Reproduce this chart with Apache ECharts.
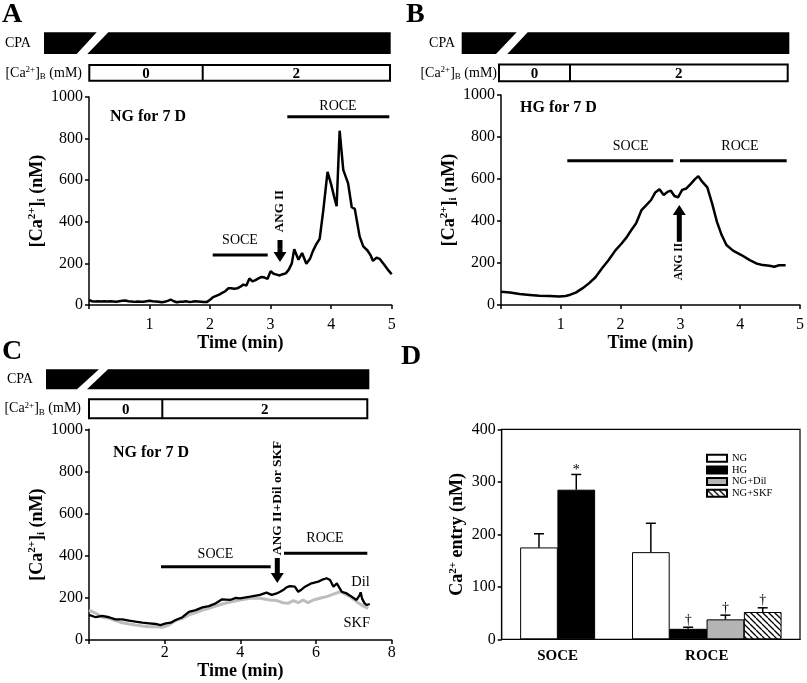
<!DOCTYPE html>
<html><head><meta charset="utf-8">
<script src="https://cdn.jsdelivr.net/npm/echarts@6.0.0/dist/echarts.min.js"></script>
<style>html,body{margin:0;padding:0;background:#fff}#c{width:807px;height:683px}</style>
</head><body><div id="c"></div>
<script>
// ---------- DATA ----------
// Panel A: NG for 7 D
const aTime = [0,0.05,0.1,0.15,0.2,0.25,0.3,0.35,0.4,0.45,0.5,0.55,0.6,0.65,0.7,0.75,0.8,0.85,0.9,0.95,1.0,1.05,1.1,1.15,1.2,1.25,1.3,1.35,1.4,1.45,1.5,1.55,1.6,1.65,1.7,1.75,1.8,1.85,1.9,1.95,2.0,2.05,2.1,2.15,2.2,2.25,2.3,2.35,2.4,2.45,2.5,2.55,2.6,2.65,2.7,2.75,2.8,2.85,2.9,2.95,3.0,3.05,3.1,3.15,3.2,3.25,3.3,3.35,3.39,3.46,3.52,3.59,3.65,3.7,3.75,3.81,3.87,3.94,4.0,4.05,4.09,4.14,4.2,4.28,4.34,4.39,4.42,4.47,4.53,4.6,4.65,4.69,4.75,4.8,4.88,4.95,5.0];
const aCa   = [24,18,17,18,17,18,17,18,17,16,18,20,22,18,17,15,17,16,16,18,20,18,17,16,13,16,20,26,18,13,16,16,18,15,16,18,17,16,14,15,25,38,44,50,58,66,80,80,78,80,88,98,94,128,114,120,128,135,132,126,163,150,146,142,148,152,170,200,268,218,250,198,222,260,290,318,455,640,580,520,475,838,650,585,470,462,462,330,282,262,240,212,228,222,192,165,148];
// Panel B: HG for 7 D
const bTime = [0,0.15,0.31,0.48,0.64,0.81,0.97,1.08,1.16,1.25,1.36,1.47,1.58,1.69,1.8,1.91,2.02,2.1,2.18,2.26,2.35,2.43,2.51,2.58,2.65,2.72,2.79,2.84,2.9,2.96,3.03,3.1,3.17,3.24,3.3,3.35,3.45,3.53,3.61,3.69,3.77,3.88,4.02,4.16,4.27,4.38,4.49,4.57,4.65,4.76];
const bCa   = [63,60,52,48,44,43,40,43,49,59,79,103,132,175,214,259,294,322,357,389,452,476,500,536,551,524,540,544,519,513,548,555,576,598,614,592,560,484,397,333,286,259,238,214,198,190,187,182,189,189];
// Panel C: NG for 7 D, ANG II + Dil (black) or SKF (gray)
const cDilTime = [0,0.18,0.35,0.53,0.7,0.88,1.06,1.23,1.41,1.59,1.76,1.89,2.03,2.16,2.29,2.47,2.64,2.82,3.0,3.17,3.35,3.52,3.73,3.88,3.99,4.26,4.52,4.69,4.83,4.96,5.05,5.13,5.22,5.31,5.44,5.53,5.62,5.71,5.88,6.06,6.15,6.28,6.37,6.46,6.55,6.68,6.81,6.94,7.07,7.15,7.18,7.22,7.28,7.34,7.42];
const cDilCa   = [119,108,114,108,98,98,92,87,82,79,76,71,79,82,95,108,134,142,155,161,174,193,190,200,198,206,214,225,214,221,229,237,250,256,253,229,240,253,269,277,285,293,285,253,269,229,221,206,190,212,226,195,175,166,171];
const cSkfTime = [0,0.18,0.35,0.53,0.7,0.88,1.06,1.23,1.41,1.59,1.76,1.94,2.11,2.29,2.47,2.64,2.82,3.0,3.17,3.35,3.52,3.73,3.99,4.26,4.52,4.78,4.96,5.13,5.26,5.4,5.53,5.66,5.79,5.93,6.1,6.28,6.46,6.64,6.77,6.9,7.07,7.25,7.38];
const cSkfCa   = [142,127,108,103,92,82,76,71,66,63,63,60,71,92,103,119,130,142,150,161,171,180,190,198,198,190,187,177,174,187,177,190,177,190,198,206,218,229,218,206,182,161,150];
// Panel D: Ca2+ entry (nM)
const dGroups = ['SOCE','ROCE'];
const dSeriesNames = ['NG','HG','NG+Dil','NG+SKF'];
const dMean = { 'NG':[175,166], 'HG':[285,20], 'NG+Dil':[null,38], 'NG+SKF':[null,52] };
const dErr  = { 'NG':[26,55],   'HG':[29,3],   'NG+Dil':[null,8],  'NG+SKF':[null,8] };
const dSig  = { 'NG':['',''],   'HG':['*','†'],'NG+Dil':['','†'], 'NG+SKF':['','†'] };
const yTicksTrace = [0,200,400,600,800,1000];
const yTicksD = [0,100,200,300,400];

// ---------- HELPERS ----------
const FF = '"Liberation Serif","Times New Roman",serif';
function richCa(size, weight){
  const s = Math.round(size*0.62);
  return {
    n:{fontSize:size,fontWeight:weight,fontFamily:FF,color:'#000',lineHeight:size+2},
    sup:{fontSize:s,fontWeight:weight,fontFamily:FF,color:'#000',verticalAlign:'top',lineHeight:s},
    sub:{fontSize:s,fontWeight:weight,fontFamily:FF,color:'#000',verticalAlign:'bottom',lineHeight:s}
  };
}
const pairs = (t,v)=>t.map((x,i)=>[x,v[i]]);
const axLine = {show:true,lineStyle:{color:'#000',width:1.5}};
const axTick = {show:true,length:4,lineStyle:{color:'#000',width:1.5}};
function xAx(grid,max,interval,margin,nameGap){
  return {type:'value',gridIndex:grid,min:0,max,interval,axisLine:axLine,axisTick:axTick,
    splitLine:{show:false},
    axisLabel:{color:'#000',fontSize:16,fontFamily:FF,margin,formatter:v=>v===0?'':String(v)},
    name:'Time (min)',nameLocation:'middle',nameGap,
    nameTextStyle:{color:'#000',fontSize:18,fontWeight:'bold',fontFamily:FF}};
}
function yAx(grid,nameGap){
  return {type:'value',gridIndex:grid,min:yTicksTrace[0],max:yTicksTrace[yTicksTrace.length-1],
    interval:yTicksTrace[1]-yTicksTrace[0],axisLine:axLine,axisTick:axTick,splitLine:{show:false},
    axisLabel:{color:'#000',fontSize:16,fontFamily:FF,margin:6,formatter:v=>String(v)},
    name:'{n|[Ca}{sup|2+}{n|]}{sub|i}{n| (nM)}',nameLocation:'middle',nameGap,
    nameTextStyle:{rich:richCa(18,'bold')}};
}
function txt(x,y,text,size,weight,align,rot){
  return {type:'text',x,y,rotation:rot||0,silent:true,
    style:{text,fill:'#000',font:(weight||'normal')+' '+size+'px '+FF,
      align:align||'center',verticalAlign:'middle',textAlign:align||'center',textVerticalAlign:'middle'}};
}
function hline(x1,x2,y,w){
  return {type:'line',silent:true,shape:{x1,y1:y,x2,y2:y},style:{stroke:'#000',lineWidth:w||3}};
}
function arrow(x,yTail,yTip){
  const d = yTip>yTail?1:-1, hb = yTip-d*10;
  return {type:'polygon',silent:true,shape:{points:[[x-2.5,yTail],[x+2.5,yTail],[x+2.5,hb],[x+6.5,hb],[x,yTip],[x-6.5,hb],[x-2.5,hb]]},style:{fill:'#000'}};
}
function header(o){
  const els=[];
  els.push(txt(o.cpaX,(o.y0+o.y1)/2,'CPA',14,'normal',o.cpaAlign));
  els.push({type:'polygon',silent:true,shape:{points:[[o.x0,o.y0],[o.g1t,o.y0],[o.g1b,o.y1],[o.x0,o.y1]]},style:{fill:'#000'}});
  els.push({type:'polygon',silent:true,shape:{points:[[o.g2t,o.y0],[o.x1,o.y0],[o.x1,o.y1],[o.g2b,o.y1]]},style:{fill:'#000'}});
  const cy=(o.by0+o.by1)/2;
  els.push({type:'text',x:o.lblR,y:cy,silent:true,style:{text:'{n|[Ca}{sup|2+}{n|]}{sub|B}{n| (mM)}',rich:richCa(14,'normal'),
     align:'right',verticalAlign:'middle',textAlign:'right',textVerticalAlign:'middle'}});
  els.push({type:'rect',silent:true,shape:{x:o.bx0,y:o.by0,width:o.bx1-o.bx0,height:o.by1-o.by0},style:{fill:'#fff',stroke:'#000',lineWidth:2}});
  els.push({type:'line',silent:true,shape:{x1:o.div,y1:o.by0,x2:o.div,y2:o.by1},style:{stroke:'#000',lineWidth:2}});
  els.push(txt((o.bx0+o.div)/2,cy+1,'0',15,'bold'));
  els.push(txt((o.div+o.bx1)/2,cy+1,'2',15,'bold'));
  return els;
}

// hatched pattern for NG+SKF
const pc = document.createElement('canvas'); pc.width=6; pc.height=6;
(function(){const g=pc.getContext('2d');g.fillStyle='#fff';g.fillRect(0,0,6,6);g.strokeStyle='#000';g.lineWidth=1.3;
  for(const k of [-6,0,6]){g.beginPath();g.moveTo(k,0);g.lineTo(k+6,6);g.stroke();}})();
const dColors = {'NG':'#ffffff','HG':'#000000','NG+Dil':'#b4b4b4','NG+SKF':{image:pc,repeat:'repeat'}};

// ---------- build D slot layout ----------
const slotCount = 17;
const slots = Array.from({length:slotCount},(_,i)=>'s'+i);
const slotLabel = {};
const groupStart = [];
let s0 = 2;
dGroups.forEach((g,gi)=>{
  const n = dSeriesNames.filter(nm=>dMean[nm][gi]!=null).length;
  groupStart.push(s0); slotLabel[s0+n-1]=g; s0 += 2*n+2;
});
const dBarSeries = [], errData = [], errMarks = [];
dSeriesNames.forEach(nm=>{
  const arr = new Array(slotCount).fill(null);
  dGroups.forEach((g,gi)=>{
    const present = dSeriesNames.filter(x=>dMean[x][gi]!=null);
    const k = present.indexOf(nm);
    if(k<0) return;
    const slot = groupStart[gi]+2*k;
    arr[slot]=dMean[nm][gi];
    errData.push([slot,dMean[nm][gi],dErr[nm][gi]]); errMarks.push(dSig[nm][gi]);
  });
  dBarSeries.push({type:'bar',name:nm,xAxisIndex:3,yAxisIndex:3,data:arr,barWidth:37.7,barGap:'-100%',
    itemStyle:{color:dColors[nm],borderColor:'#000',borderWidth:1}});
});

// ---------- graphics ----------
const graphics = [
  txt(2,15,'A',28,'bold','left'), txt(406,15,'B',28,'bold','left'),
  txt(2,352,'C',28,'bold','left'), txt(401,357,'D',28,'bold','left'),
  ...header({cpaX:5,cpaAlign:'left',x0:44,x1:390.7,y0:32.3,y1:54,g1t:96.7,g1b:76.7,g2t:108.3,g2b:87.3,
    lblR:82,bx0:89.3,bx1:390,by0:65,by1:80.7,div:202.7}),
  ...header({cpaX:455,cpaAlign:'right',x0:461.7,x1:789.3,y0:32.3,y1:54,g1t:516.7,g1b:496,g2t:527.7,g2b:507.3,
    lblR:497,bx0:499,bx1:787.7,by0:64.5,by1:81.2,div:570}),
  ...header({cpaX:7,cpaAlign:'left',x0:46,x1:369.3,y0:369.3,y1:389.3,g1t:99,g1b:77,g2t:108,g2b:87,
    lblR:81,bx0:89,bx1:367.3,by0:399.3,by1:418.3,div:162.3}),
  // A annotations
  txt(110,116.7,'NG for 7 D',16,'bold','left'),
  txt(338,106.7,'ROCE',14), hline(287.3,389.3,116.7),
  txt(240,240.7,'SOCE',14), hline(212.7,267.7,255),
  txt(280,211,'ANG II',13,'bold','center',Math.PI/2), arrow(280,240,262),
  // B annotations
  txt(520,108.3,'HG for 7 D',16,'bold','left'),
  txt(630.7,146.7,'SOCE',14), hline(567.3,673.3,160.7),
  txt(740,146.7,'ROCE',14), hline(680,786.7,160.7),
  arrow(679.3,241.7,205), txt(679.3,261.5,'ANG II',11.5,'bold','center',Math.PI/2),
  // C annotations
  txt(113,453,'NG for 7 D',16,'bold','left'),
  txt(215.5,554,'SOCE',14), hline(161,270.7,566.7),
  txt(325,538,'ROCE',14), hline(284,367.3,553.3),
  txt(277.3,498,'ANG II+Dil or SKF',13.5,'bold','center',Math.PI/2), arrow(277.3,558,583),
  txt(360.5,582,'Dil',14.5), txt(356.7,623,'SKF',14.5)
];

// ---------- OPTION ----------
const option = {
  animation:false,
  backgroundColor:'#fff',
  grid:[
    {left:89,top:97,width:302.7,height:208},
    {left:501,top:95,width:303,height:210},
    {left:89,top:429.3,width:302.7,height:210.7},
    {left:501.7,top:429.3,width:298.3,height:210,show:true,borderColor:'#000',borderWidth:1.2}
  ],
  xAxis:[
    xAx(0,5,1,12,28), xAx(1,5,1,12,28), xAx(2,8,2,5,21),
    {type:'category',gridIndex:3,data:slots,boundaryGap:false,
      axisLine:{show:true,lineStyle:{color:'#000',width:1.2}},axisTick:{show:false},
      axisLabel:{interval:0,margin:9,color:'#000',fontSize:15,fontWeight:'bold',fontFamily:FF,formatter:(v,i)=>slotLabel[i]||''}}
  ],
  yAxis:[
    yAx(0,18), yAx(1,29), yAx(2,41),
    {type:'value',gridIndex:3,min:yTicksD[0],max:yTicksD[yTicksD.length-1],interval:yTicksD[1]-yTicksD[0],
      axisLine:{show:true,lineStyle:{color:'#000',width:1.2}},axisTick:axTick,splitLine:{show:false},
      axisLabel:{color:'#000',fontSize:16,fontFamily:FF,margin:6},
      name:'{n|Ca}{sup|2+}{n| entry (nM)}',nameLocation:'middle',nameGap:34,nameTextStyle:{rich:richCa(18,'bold')}}
  ],
  legend:{data:dSeriesNames,orient:'vertical',left:701,top:447.7,itemWidth:20,itemHeight:7,itemGap:0.7,
    icon:'rect',selectedMode:false,textStyle:{color:'#000',fontSize:10.5,fontFamily:FF,lineHeight:10,padding:[0,0,0,0]}},
  series:[
    {type:'line',xAxisIndex:0,yAxisIndex:0,data:pairs(aTime,aCa),symbol:'none',lineStyle:{color:'#000',width:2.5},silent:true},
    {type:'line',xAxisIndex:1,yAxisIndex:1,data:pairs(bTime,bCa),symbol:'none',lineStyle:{color:'#000',width:2.5},silent:true},
    {type:'line',name:'SKF',xAxisIndex:2,yAxisIndex:2,data:pairs(cSkfTime,cSkfCa),symbol:'none',lineStyle:{color:'#bdbdbd',width:3},silent:true},
    {type:'line',name:'Dil',xAxisIndex:2,yAxisIndex:2,data:pairs(cDilTime,cDilCa),symbol:'none',lineStyle:{color:'#000',width:2.3},silent:true},
    ...dBarSeries,
    {type:'custom',xAxisIndex:3,yAxisIndex:3,data:errData,encode:{x:0,y:1},silent:true,z:5,
      renderItem:(params,api)=>{
        const s=api.value(0),v=api.value(1),e=api.value(2);
        const b=api.coord([s,v]),t=api.coord([s,v+e]);
        const m=errMarks[params.dataIndex];
        const ch=[
          {type:'line',shape:{x1:b[0],y1:b[1],x2:t[0],y2:t[1]},style:{stroke:'#000',lineWidth:1.5}},
          {type:'line',shape:{x1:t[0]-5,y1:t[1],x2:t[0]+5,y2:t[1]},style:{stroke:'#000',lineWidth:1.5}}
        ];
        if(m) ch.push({type:'text',x:t[0],y:t[1]+(m==='*'?3:0),style:{text:m,fill:'#000',font:'14px '+FF,align:'center',verticalAlign:'bottom',textAlign:'center',textVerticalAlign:'bottom'}});
        return {type:'group',children:ch};
      }}
  ],
  graphic:{elements:graphics}
};
const chart = echarts.init(document.getElementById('c'),null,{renderer:'canvas'});
chart.setOption(option);
</script></body></html>
